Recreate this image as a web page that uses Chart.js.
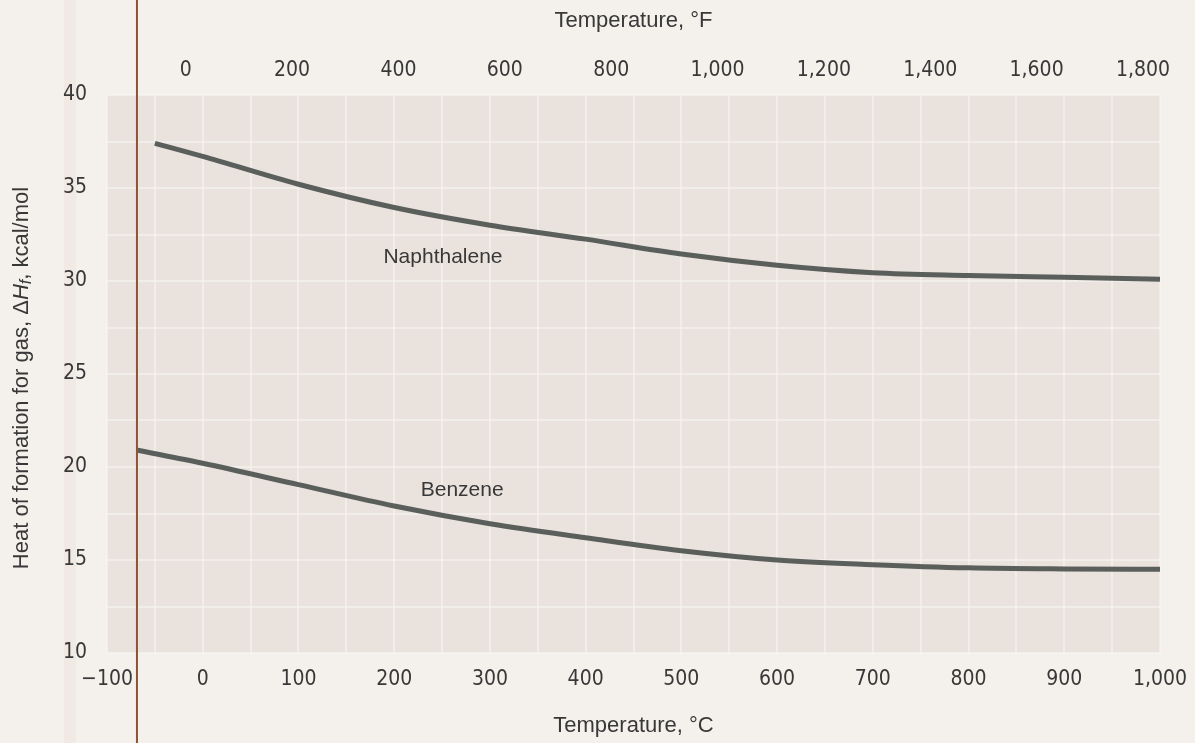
<!DOCTYPE html>
<html>
<head>
<meta charset="utf-8">
<script src="https://cdn.jsdelivr.net/npm/chart.js@4"></script>
<style>
  body { margin: 0; background: #f4f1ec; }
  canvas { display: block; }
</style>
</head>
<body>
<canvas id="myChart" width="1195" height="743"></canvas>
<script>
// data (°C, kcal/mol)
const naphTemps = [-50, 0, 100, 200, 300, 400, 500, 600, 700, 800, 900, 1000]
const naphthalene = [37.4, 36.7, 35.2, 33.95, 33.0, 32.25, 31.45, 30.85, 30.45, 30.3, 30.2, 30.1]
const benzTemps = [-68, 0, 100, 200, 300, 400, 500, 600, 700, 800, 900, 1000]
const benzene = [20.9, 20.2, 19.05, 17.9, 16.95, 16.2, 15.5, 15.0, 14.75, 14.58, 14.52, 14.5]

// tick labels
const cTicks = [-100, 0, 100, 200, 300, 400, 500, 600, 700, 800, 900, 1000]
const fTicks = [0, 200, 400, 600, 800, 1000, 1200, 1400, 1600, 1800]
const yTicks = [10, 15, 20, 25, 30, 35, 40]

// curve labels [text, °C, kcal/mol]
const curveLabels = [['Naphthalene', 251, 31.3], ['Benzene', 271, 18.75]]
// the brown margin line on the scanned page, in °C
const marginLine = -68.7

const tickFont = { family: "'Liberation Sans Narrow', 'DejaVu Sans Condensed', 'Liberation Sans', Arial, sans-serif", size: 21 }
const textFont = "'Liberation Sans', Arial, sans-serif"
const ink = '#383838'
const gridColor = 'rgba(248, 246, 243, 0.55)'

const fmt = v => v < 0 ? '\u2212' + Math.abs(v) : v.toLocaleString('en-US')

const toPoints = (xs, ys) => xs.map((x, i) => ({ x: x, y: ys[i] }))

// page + plot background, margin line
const paper = {
    id: 'paper',
    beforeDraw(chart) {
        const { ctx, chartArea: a, width, height } = chart
        ctx.save()
        ctx.fillStyle = '#f4f1ec'
        ctx.fillRect(0, 0, width, height)
        ctx.fillStyle = 'rgba(232, 205, 195, 0.2)'
        ctx.fillRect(64, 0, 12, height)
        ctx.fillStyle = '#e9e2dd'
        ctx.fillRect(a.left, a.top, a.right - a.left, a.bottom - a.top)
        ctx.restore()
    },
    afterDraw(chart) {
        const { ctx, height } = chart
        const x = chart.scales.x.getPixelForValue(marginLine)
        ctx.save()
        ctx.strokeStyle = '#8e5238'
        ctx.lineWidth = 2
        ctx.beginPath()
        ctx.moveTo(x, 0)
        ctx.lineTo(x, height)
        ctx.stroke()
        ctx.restore()
    }
}

// "Naphthalene", "Benzene"
const labelsPlugin = {
    id: 'curveLabels',
    afterDatasetsDraw(chart) {
        const { ctx, scales } = chart
        ctx.save()
        ctx.fillStyle = ink
        ctx.font = '21px ' + textFont
        ctx.textAlign = 'center'
        ctx.textBaseline = 'middle'
        curveLabels.forEach(l => {
            ctx.fillText(l[0], scales.x.getPixelForValue(l[1]), scales.y.getPixelForValue(l[2]))
        })
        ctx.restore()
    }
}

// rotated y title with italic H and subscript f
const yTitle = {
    id: 'yTitle',
    afterDraw(chart) {
        const { ctx, chartArea: a } = chart
        const parts = [
            ['Heat of formation for gas, \u0394', 'normal', 22, 0],
            ['H', 'italic', 22, 0],
            ['f', 'italic', 16, 5],
            [', kcal/mol', 'normal', 22, 0]
        ]
        ctx.save()
        let total = 0
        parts.forEach(p => {
            ctx.font = p[1] + ' ' + p[2] + 'px ' + textFont
            p.push(ctx.measureText(p[0]).width)
            total += p[4]
        })
        ctx.translate(22, (a.top + a.bottom) / 2 + 4)
        ctx.rotate(-Math.PI / 2)
        ctx.fillStyle = ink
        ctx.textBaseline = 'middle'
        let x = -total / 2
        parts.forEach(p => {
            ctx.font = p[1] + ' ' + p[2] + 'px ' + textFont
            ctx.fillText(p[0], x, p[3])
            x += p[4]
        })
        ctx.restore()
    }
}

const fitX = h => s => {
    s.height = h
    s.paddingLeft = 0
    s.paddingRight = 0
}

const data = {
    datasets: [{
        label: 'Naphthalene',
        data: toPoints(naphTemps, naphthalene),
        borderColor: 'rgba(78, 84, 80, 0.92)',
        borderWidth: 5,
        pointRadius: 0,
        cubicInterpolationMode: 'monotone'
    }, {
        label: 'Benzene',
        data: toPoints(benzTemps, benzene),
        borderColor: 'rgba(78, 84, 80, 0.92)',
        borderWidth: 5,
        pointRadius: 0,
        cubicInterpolationMode: 'monotone'
    }]
}

const config = {
    type: 'line',
    data: data,
    options: {
        responsive: false,
        animation: false,
        layout: { padding: { right: 35 } },
        plugins: { legend: { display: false }, tooltip: { enabled: false } },
        scales: {
            x: {
                type: 'linear',
                position: 'bottom',
                min: -100,
                max: 1000,
                afterFit: fitX(90),
                border: { display: false },
                grid: { color: gridColor, lineWidth: 2, drawTicks: false },
                ticks: {
                    stepSize: 50,
                    autoSkip: false,
                    maxRotation: 0,
                    padding: 14,
                    color: ink,
                    font: tickFont,
                    callback: v => cTicks.includes(v) ? fmt(v) : ''
                },
                title: { display: true, text: 'Temperature, \u00b0C', color: ink, font: { family: textFont, size: 22 }, padding: { bottom: 4 } }
            },
            x2: {
                type: 'linear',
                position: 'top',
                min: -148,
                max: 1832,
                afterFit: fitX(95),
                afterBuildTicks: s => { s.ticks = fTicks.map(v => ({ value: v })) },
                border: { display: false },
                grid: { display: false, drawTicks: false },
                ticks: {
                    autoSkip: false,
                    maxRotation: 0,
                    padding: 12,
                    color: ink,
                    font: tickFont,
                    callback: v => fmt(v)
                },
                title: { display: true, text: 'Temperature, \u00b0F', color: ink, font: { family: textFont, size: 22 }, padding: { top: 8 } }
            },
            y: {
                min: 10,
                max: 40,
                afterFit: s => { s.width = 107 },
                border: { display: false },
                grid: { color: gridColor, lineWidth: 2, drawTicks: false },
                ticks: {
                    stepSize: 2.5,
                    autoSkip: false,
                    padding: 20,
                    color: ink,
                    font: tickFont,
                    callback: v => yTicks.includes(v) ? v : ''
                }
            }
        }
    },
    plugins: [paper, labelsPlugin, yTitle]
}

const myChart = new Chart(document.getElementById('myChart'), config)
</script>
</body>
</html>
